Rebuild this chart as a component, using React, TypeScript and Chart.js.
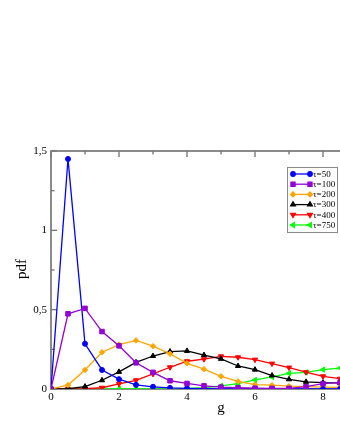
import React, { useEffect, useRef } from "react";
import { Chart, registerables } from "chart.js";
import { drawPoint } from "chart.js/helpers";

Chart.register(...registerables);

// ---- data ----
const gValues = [0, 0.5, 1, 1.5, 2, 2.5, 3, 3.5, 4, 4.5, 5, 5.5, 6, 6.5, 7, 7.5, 8, 8.5];
const tau50 = [0, 1.45, 0.285, 0.12, 0.062, 0.026, 0.014, 0.007, 0.004, 0.002, 0.001, 0.001, 0, 0, 0, 0, 0, 0];
const tau100 = [0, 0.474, 0.508, 0.362, 0.272, 0.165, 0.105, 0.052, 0.035, 0.02, 0.012, 0.008, 0.005, 0.004, 0.004, 0.015, 0.034, 0.04];
const tau200 = [0, 0.025, 0.12, 0.232, 0.28, 0.306, 0.27, 0.222, 0.162, 0.125, 0.08, 0.048, 0.028, 0.024, 0.018, 0.015, 0.012, 0.01];
const tau300 = [0, 0.002, 0.015, 0.055, 0.108, 0.168, 0.208, 0.236, 0.24, 0.214, 0.19, 0.145, 0.122, 0.085, 0.061, 0.045, 0.04, 0.038];
const tau400 = [0, 0, 0.002, 0.008, 0.033, 0.055, 0.095, 0.137, 0.175, 0.188, 0.206, 0.2, 0.185, 0.16, 0.135, 0.106, 0.08, 0.065];
const tau750 = [0, 0, 0, 0, 0, 0, 0, 0.001, 0.003, 0.008, 0.02, 0.034, 0.057, 0.076, 0.099, 0.105, 0.122, 0.132];

const seriesLabels = ["τ=50", "τ=100", "τ=200", "τ=300", "τ=400", "τ=750"];
const seriesValues = [tau50, tau100, tau200, tau300, tau400, tau750];

const xTicks = [0, 2, 4, 6, 8, 10];
const xTickLabels = ["0", "2", "4", "6", "8", "10"];
const yTicks = [0, 0.5, 1, 1.5];
const yTickLabels = ["0", "0,5", "1", "1,5"];
const xTitle = "g";
const yTitle = "pdf";

// ---- styles ----
const colors = ["#0000ff", "#9400d3", "#ffa500", "#000000", "#ff0000", "#00ff00"];
const styles = [
  { pointStyle: "circle", rotation: 0, radius: 2.5 },
  { pointStyle: "rect", rotation: 0, radius: 3.2 },
  { pointStyle: "rectRot", rotation: 0, radius: 2.7 },
  { pointStyle: "triangle", rotation: 0, radius: 3 },
  { pointStyle: "triangle", rotation: 180, radius: 3 },
  { pointStyle: "triangle", rotation: 270, radius: 3 },
];
const drawOrder = [2, 0, 3, 4, 5, 6];
const serif = "'Liberation Serif', 'DejaVu Serif', serif";

const framePlugin = {
  id: "frame",
  beforeDatasetsDraw(chart: any) {
    const { ctx, chartArea: a, scales } = chart;
    const x = scales.x;
    const y = scales.y;
    ctx.save();
    ctx.strokeStyle = "#6e6e6e";
    ctx.lineWidth = 1.6;
    ctx.strokeRect(a.left, a.top, a.right - a.left, a.bottom - a.top);
    ctx.lineWidth = 1.4;
    ctx.strokeStyle = "#7a7a7a";
    const seg = (x1: number, y1: number, x2: number, y2: number) => {
      ctx.beginPath();
      ctx.moveTo(x1, y1);
      ctx.lineTo(x2, y2);
      ctx.stroke();
    };
    for (let v = x.min; v <= x.max + 1e-9; v += 1) {
      const px = x.getPixelForValue(v);
      const len = Math.round(v) % 2 === 0 ? 6 : 3.5;
      seg(px, a.bottom, px, a.bottom - len);
      seg(px, a.top, px, a.top + len);
    }
    for (let v = y.min; v <= y.max + 1e-9; v += 0.25) {
      const py = y.getPixelForValue(v);
      const major = Math.abs(v * 2 - Math.round(v * 2)) < 1e-6;
      const len = major ? 6 : 3.5;
      seg(a.left, py, a.left + len, py);
      seg(a.right, py, a.right - len, py);
    }
    ctx.restore();
  },
  afterDraw(chart: any) {
    const { ctx, chartArea: a, scales } = chart;
    ctx.save();
    // axis titles
    ctx.fillStyle = "#000";
    ctx.font = `15px ${serif}`;
    ctx.textAlign = "center";
    ctx.textBaseline = "middle";
    ctx.fillText(xTitle, scales.x.getPixelForValue(5), a.bottom + 19);
    ctx.save();
    ctx.translate(22, (a.top + a.bottom) / 2 - 1);
    ctx.rotate(-Math.PI / 2);
    ctx.fillText(yTitle, 0, 0);
    ctx.restore();

    // legend
    const bx = a.right - 104;
    const by = a.top + 16;
    const bw = 50;
    const bh = 65;
    ctx.fillStyle = "#fff";
    ctx.fillRect(bx, by, bw, bh);
    ctx.strokeStyle = "#8a8a8a";
    ctx.lineWidth = 1;
    ctx.strokeRect(bx + 0.5, by + 0.5, bw, bh);
    ctx.font = `9px ${serif}`;
    ctx.textAlign = "left";
    ctx.textBaseline = "middle";
    seriesLabels.forEach((lab, i) => {
      const ry = by + 7 + i * 10.2;
      const x1 = bx + 6;
      const x2 = bx + 23;
      ctx.strokeStyle = colors[i];
      ctx.lineWidth = 1.3;
      ctx.beginPath();
      ctx.moveTo(x1, ry);
      ctx.lineTo(x2, ry);
      ctx.stroke();
      const st = styles[i];
      ctx.fillStyle = colors[i];
      const opts = { pointStyle: st.pointStyle, rotation: st.rotation, radius: st.radius * 0.9, borderWidth: 1 };
      drawPoint(ctx, opts as any, x1, ry);
      drawPoint(ctx, opts as any, x2, ry);
      ctx.fillStyle = "#000";
      ctx.fillText(lab, bx + 26, ry + 0.5);
    });
    ctx.restore();
  },
};

export default function App() {
  const ref = useRef<HTMLCanvasElement>(null);
  useEffect(() => {
    if (!ref.current) return;
    const datasets = seriesValues.map((vals, i) => ({
      label: seriesLabels[i],
      data: vals.map((v, k) => ({ x: gValues[k], y: v })),
      borderColor: colors[i],
      backgroundColor: colors[i],
      borderWidth: 1.3,
      pointStyle: styles[i].pointStyle as any,
      pointRotation: styles[i].rotation,
      pointRadius: styles[i].radius,
      pointBorderWidth: 1,
      pointBorderColor: colors[i],
      pointBackgroundColor: colors[i],
      tension: 0,
      fill: false,
      order: drawOrder[i],
    }));
    const chart = new Chart(ref.current, {
      type: "line",
      data: { datasets },
      options: {
        animation: false,
        responsive: false,
        devicePixelRatio: 1,
        layout: { padding: { top: 151, right: 29, bottom: 0, left: 0 } },
        plugins: { legend: { display: false }, tooltip: { enabled: false } },
        scales: {
          x: {
            type: "linear",
            min: 0,
            max: 10,
            grid: { display: false, drawTicks: false },
            border: { display: false },
            afterFit: (s: any) => {
              s.height = 51;
            },
            afterBuildTicks: (s: any) => {
              s.ticks = xTicks.map((v) => ({ value: v }));
            },
            ticks: {
              padding: 2,
              maxRotation: 0,
              color: "#000",
              font: { family: serif, size: 11 },
              callback: (v: any) => xTickLabels[xTicks.indexOf(Number(v))] ?? "",
            },
          },
          y: {
            type: "linear",
            min: 0,
            max: 1.5,
            grid: { display: false, drawTicks: false },
            border: { display: false },
            afterFit: (s: any) => {
              s.width = 51;
            },
            afterBuildTicks: (s: any) => {
              s.ticks = yTicks.map((v) => ({ value: v }));
            },
            ticks: {
              padding: 4,
              color: "#000",
              font: { family: serif, size: 11 },
              callback: (v: any) => yTickLabels[yTicks.indexOf(Number(v))] ?? "",
            },
          },
        },
      },
      plugins: [framePlugin],
    });
    return () => chart.destroy();
  }, []);

  return (
    <div
      style={{
        position: "fixed",
        left: 0,
        top: 0,
        width: 340,
        height: 440,
        overflow: "hidden",
        background: "#fff",
      }}
    >
      <canvas ref={ref} width={420} height={440} style={{ display: "block" }} />
    </div>
  );
}
